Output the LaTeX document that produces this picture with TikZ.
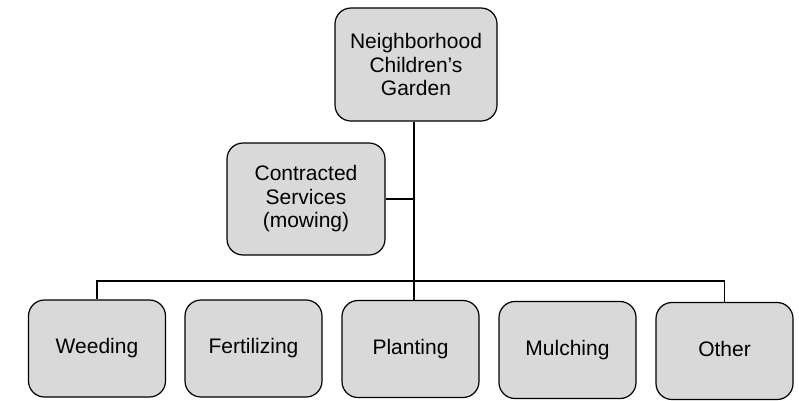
\documentclass[tikz,border=0pt]{standalone}
\usepackage{fontspec}
\setmainfont{Liberation Sans}
\begin{document}
\begin{tikzpicture}[x=1pt,y=-1pt,
  box/.style={draw=black, line width=1.2pt, fill=black!15, rounded corners=16pt,
    minimum width=137pt, minimum height=97pt, align=center, inner sep=0pt,
    font=\fontsize{21}{23.5}\selectfont},
  leaf/.style={box, text height=15pt, text depth=5pt},
  link/.style={draw=black, line width=1.6pt}]
\useasboundingbox (0,0) rectangle (799,400);
\node[box, minimum width=162pt, minimum height=113pt] (top) at (416,64.5) {Neighborhood\\Children’s\\Garden};
\node[box, minimum width=158pt, minimum height=112pt] (con) at (306,199) {Contracted\\Services\\(mowing)};
\node[leaf] (wee) at (97,348.5) {Weeding};
\node[leaf] (fer) at (253.5,348.5) {Fertilizing};
\node[leaf] (pla) at (410.5,349) {Planting};
\node[leaf] (mul) at (567.5,350) {Mulching};
\node[leaf] (oth) at (724.5,351) {Other};
\coordinate (bus) at (414,281);
\draw[link] (top.south -| bus) -- (bus |- pla.north);
\draw[link] (con.east) -- (con.east -| bus);
\draw[link] (wee.north) |- (bus) -| (oth.north);
\end{tikzpicture}
\end{document}
